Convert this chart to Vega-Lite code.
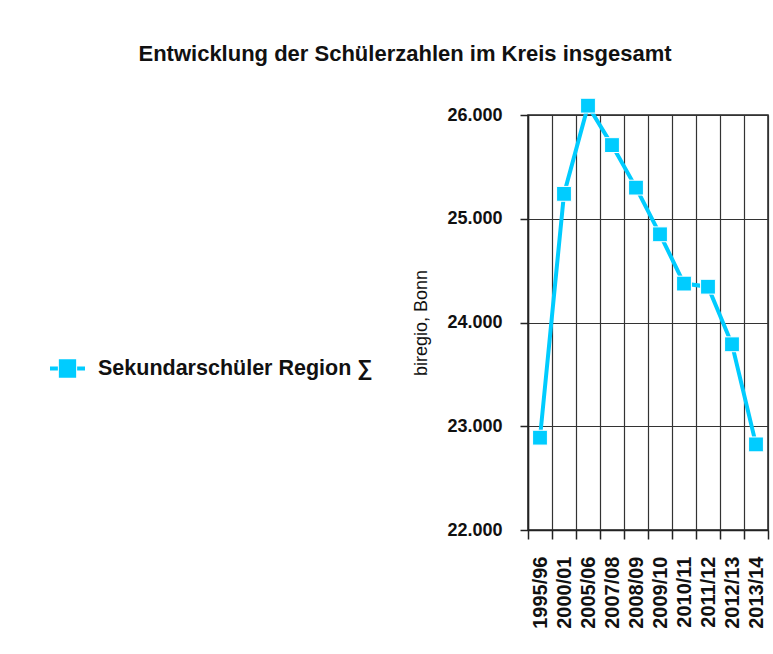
{
  "$schema": "https://vega.github.io/schema/vega-lite/v6.json",
  "width": 240,
  "height": 415,
  "autosize": {"type": "none"},
  "padding": {"left": 528, "top": 115, "right": 5, "bottom": 124},
  "background": "white",
  "title": {
    "text": "Entwicklung der Schülerzahlen im Kreis insgesamt",
    "font": "Liberation Sans",
    "fontSize": 22,
    "fontWeight": "bold",
    "color": "#111",
    "anchor": "middle",
    "frame": "group",
    "dx": -243,
    "offset": 30
  },
  "data": {
    "values": [
      {"jahr": "1995/96", "schueler": 22890, "serie": "Sekundarschüler Region ∑"},
      {"jahr": "2000/01", "schueler": 25240, "serie": "Sekundarschüler Region ∑"},
      {"jahr": "2005/06", "schueler": 26090, "serie": "Sekundarschüler Region ∑"},
      {"jahr": "2007/08", "schueler": 25710, "serie": "Sekundarschüler Region ∑"},
      {"jahr": "2008/09", "schueler": 25300, "serie": "Sekundarschüler Region ∑"},
      {"jahr": "2009/10", "schueler": 24850, "serie": "Sekundarschüler Region ∑"},
      {"jahr": "2010/11", "schueler": 24375, "serie": "Sekundarschüler Region ∑"},
      {"jahr": "2011/12", "schueler": 24345, "serie": "Sekundarschüler Region ∑"},
      {"jahr": "2012/13", "schueler": 23790, "serie": "Sekundarschüler Region ∑"},
      {"jahr": "2013/14", "schueler": 22825, "serie": "Sekundarschüler Region ∑"}
    ]
  },
  "encoding": {
    "x": {
      "field": "jahr",
      "type": "ordinal",
      "sort": null,
      "scale": {"type": "band", "paddingInner": 0, "paddingOuter": 0},
      "axis": {
        "title": null,
        "labelAngle": -90,
        "labelFont": "Liberation Sans",
        "labelFontWeight": "bold",
        "labelFontSize": 20,
        "labelColor": "#111",
        "labelPadding": 17,
        "tickBand": "extent",
        "tickSize": 9,
        "tickColor": "#222",
        "tickWidth": 1.5,
        "domainColor": "#222",
        "domainWidth": 1.5,
        "grid": true,
        "gridColor": "#333",
        "gridWidth": 1.2
      }
    },
    "y": {
      "field": "schueler",
      "type": "quantitative",
      "scale": {"domain": [22000, 26000], "zero": false, "nice": false, "clamp": false},
      "axis": {
        "title": "biregio, Bonn",
        "titleFont": "Liberation Sans",
        "titleFontSize": 18,
        "titleFontWeight": "normal",
        "titleColor": "#111",
        "titlePadding": 16,
        "values": [22000, 23000, 24000, 25000, 26000],
        "labelExpr": "replace(format(datum.value, ',d'), ',', '.')",
        "labelFont": "Liberation Sans",
        "labelFontWeight": "bold",
        "labelFontSize": 18,
        "labelColor": "#111",
        "labelPadding": 18,
        "tickSize": 8,
        "tickColor": "#222",
        "tickWidth": 1.5,
        "domainColor": "#222",
        "domainWidth": 1.5,
        "grid": true,
        "gridColor": "#333",
        "gridWidth": 1.2
      }
    },
    "color": {
      "field": "serie",
      "type": "nominal",
      "scale": {"range": ["#00CCFF"]},
      "legend": {
        "title": null,
        "orient": "none",
        "legendX": -480,
        "legendY": 234,
        "labelFont": "Liberation Sans",
        "labelFontWeight": "bold",
        "labelFontSize": 21.5,
        "labelColor": "#111",
        "labelLimit": 0,
        "labelOffset": 11,
        "symbolType": "M-1,0H-0.55M-0.38,-0.42H0.38V0.42H-0.38ZM0.55,0H1",
        "symbolSize": 1225,
        "symbolStrokeWidth": 4,
        "symbolFillColor": "#00CCFF",
        "symbolStrokeColor": "#00CCFF"
      }
    }
  },
  "layer": [
    {"mark": {"type": "line", "strokeWidth": 4}},
    {"mark": {"type": "point", "shape": "square", "filled": true, "size": 220, "opacity": 1, "stroke": "white", "strokeWidth": 1}}
  ],
  "config": {
    "view": {"stroke": "#222", "strokeWidth": 1.5}
  }
}
